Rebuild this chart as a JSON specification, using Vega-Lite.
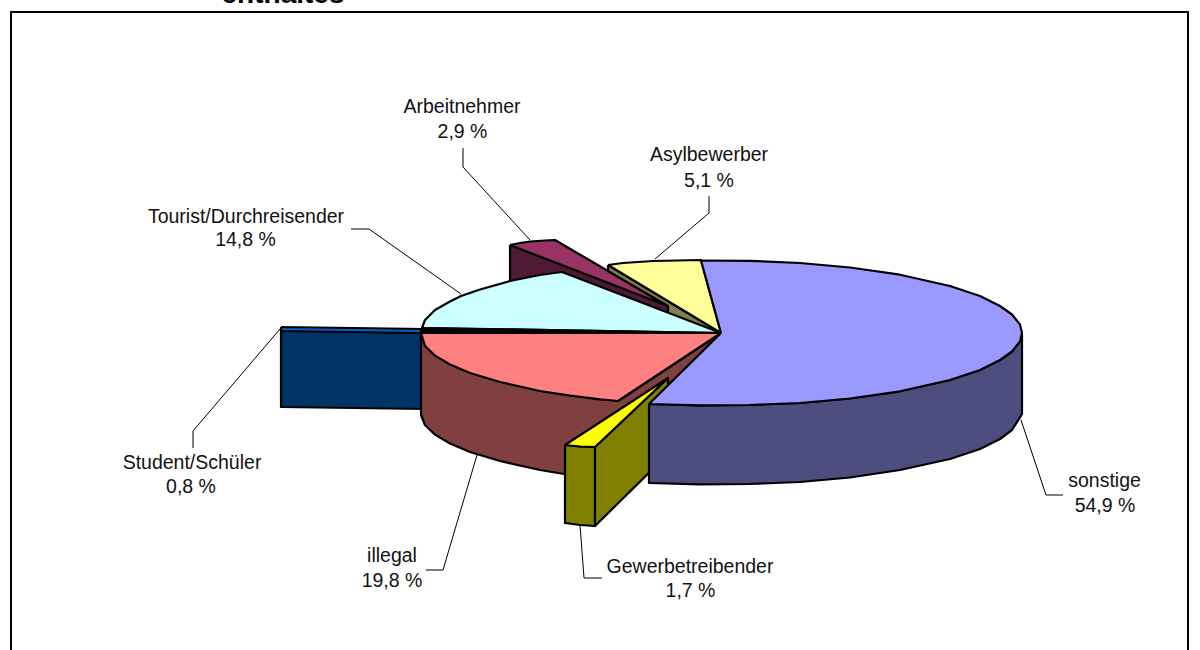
{"$schema":"https://vega.github.io/schema/vega-lite/v6.json","width":1200,"height":650,"autosize":{"type":"none"},"padding":0,"background":"white","view":{"stroke":null},
"datasets":{
"faces":[
{"p":"Arbeitnehmer Seite","x":510,"y":245},{"p":"Arbeitnehmer Seite","x":510,"y":285},{"p":"Arbeitnehmer Seite","x":668,"y":314},{"p":"Arbeitnehmer Seite","x":668,"y":305},{"p":"Arbeitnehmer Seite","x":510,"y":245},
{"p":"Arbeitnehmer","x":510,"y":245},{"p":"Arbeitnehmer","x":520,"y":243},{"p":"Arbeitnehmer","x":530,"y":241.5},{"p":"Arbeitnehmer","x":545,"y":240.5},{"p":"Arbeitnehmer","x":555,"y":240},{"p":"Arbeitnehmer","x":668,"y":306},{"p":"Arbeitnehmer","x":510,"y":245},
{"p":"Asylbewerber Seite","x":608,"y":265},{"p":"Asylbewerber Seite","x":608,"y":271},{"p":"Asylbewerber Seite","x":668,"y":306},{"p":"Asylbewerber Seite","x":668,"y":314},{"p":"Asylbewerber Seite","x":721,"y":333},{"p":"Asylbewerber Seite","x":608,"y":265},
{"p":"Asylbewerber","x":608,"y":265},{"p":"Asylbewerber","x":623,"y":263},{"p":"Asylbewerber","x":653,"y":261},{"p":"Asylbewerber","x":701,"y":260},{"p":"Asylbewerber","x":721,"y":333},{"p":"Asylbewerber","x":608,"y":265},
{"p":"Tourist","x":721,"y":333},{"p":"Tourist","x":562,"y":272},{"p":"Tourist","x":540,"y":275},{"p":"Tourist","x":510,"y":281},{"p":"Tourist","x":480,"y":289.5},{"p":"Tourist","x":461,"y":296},{"p":"Tourist","x":450,"y":301.5},{"p":"Tourist","x":435,"y":310},{"p":"Tourist","x":425,"y":320},{"p":"Tourist","x":422,"y":328},{"p":"Tourist","x":721,"y":333},
{"p":"Student Seite","x":281,"y":331},{"p":"Student Seite","x":425,"y":333},{"p":"Student Seite","x":425,"y":409},{"p":"Student Seite","x":281,"y":407},{"p":"Student Seite","x":281,"y":331},
{"p":"Student","x":281,"y":327},{"p":"Student","x":425,"y":329},{"p":"Student","x":425,"y":333},{"p":"Student","x":281,"y":331},{"p":"Student","x":281,"y":327},
{"p":"Keil","x":421,"y":328},{"p":"Keil","x":721,"y":333},{"p":"Keil","x":421,"y":334},{"p":"Keil","x":421,"y":328},
{"p":"illegal Seite","x":421,"y":335},{"p":"illegal Seite","x":421,"y":415},{"p":"illegal Seite","x":425,"y":425},{"p":"illegal Seite","x":435,"y":434.6},{"p":"illegal Seite","x":450,"y":443.5},{"p":"illegal Seite","x":470,"y":452},{"p":"illegal Seite","x":500,"y":461},{"p":"illegal Seite","x":540,"y":470},{"p":"illegal Seite","x":570,"y":475},{"p":"illegal Seite","x":618,"y":480},{"p":"illegal Seite","x":650,"y":440},{"p":"illegal Seite","x":650,"y":404},{"p":"illegal Seite","x":721,"y":333},{"p":"illegal Seite","x":618,"y":401},{"p":"illegal Seite","x":421,"y":335},
{"p":"illegal","x":721,"y":333},{"p":"illegal","x":421,"y":333},{"p":"illegal","x":425,"y":346},{"p":"illegal","x":435,"y":355.6},{"p":"illegal","x":450,"y":364.5},{"p":"illegal","x":470,"y":373},{"p":"illegal","x":500,"y":382},{"p":"illegal","x":540,"y":391},{"p":"illegal","x":570,"y":395.7},{"p":"illegal","x":600,"y":399.4},{"p":"illegal","x":618,"y":401},{"p":"illegal","x":721,"y":333},
{"p":"Gewerbe Front","x":565,"y":445},{"p":"Gewerbe Front","x":580,"y":446.5},{"p":"Gewerbe Front","x":595,"y":447},{"p":"Gewerbe Front","x":595,"y":526},{"p":"Gewerbe Front","x":580,"y":525},{"p":"Gewerbe Front","x":565,"y":523},{"p":"Gewerbe Front","x":565,"y":445},
{"p":"Gewerbe Seite","x":595,"y":447},{"p":"Gewerbe Seite","x":668,"y":378},{"p":"Gewerbe Seite","x":668,"y":454},{"p":"Gewerbe Seite","x":595,"y":526},{"p":"Gewerbe Seite","x":595,"y":447},
{"p":"Gewerbe","x":565,"y":445},{"p":"Gewerbe","x":668,"y":378},{"p":"Gewerbe","x":595,"y":447},{"p":"Gewerbe","x":580,"y":446.5},{"p":"Gewerbe","x":565,"y":445},
{"p":"sonstige Seite","x":650,"y":404},{"p":"sonstige Seite","x":700,"y":405.4},{"p":"sonstige Seite","x":750,"y":405},{"p":"sonstige Seite","x":800,"y":403},{"p":"sonstige Seite","x":850,"y":398.5},{"p":"sonstige Seite","x":900,"y":391.3},{"p":"sonstige Seite","x":950,"y":380},{"p":"sonstige Seite","x":980,"y":370},{"p":"sonstige Seite","x":1000,"y":360},{"p":"sonstige Seite","x":1012,"y":351.5},{"p":"sonstige Seite","x":1022,"y":335},{"p":"sonstige Seite","x":1022,"y":414},{"p":"sonstige Seite","x":1012,"y":430},{"p":"sonstige Seite","x":1000,"y":439},{"p":"sonstige Seite","x":980,"y":449},{"p":"sonstige Seite","x":950,"y":459},{"p":"sonstige Seite","x":900,"y":470},{"p":"sonstige Seite","x":850,"y":477.5},{"p":"sonstige Seite","x":800,"y":482},{"p":"sonstige Seite","x":750,"y":484},{"p":"sonstige Seite","x":700,"y":484.4},{"p":"sonstige Seite","x":649,"y":483},{"p":"sonstige Seite","x":649,"y":404},
{"p":"sonstige","x":721,"y":333},{"p":"sonstige","x":701,"y":260.5},{"p":"sonstige","x":750,"y":260.8},{"p":"sonstige","x":800,"y":263},{"p":"sonstige","x":850,"y":267.5},{"p":"sonstige","x":900,"y":274.7},{"p":"sonstige","x":950,"y":286},{"p":"sonstige","x":980,"y":296},{"p":"sonstige","x":1000,"y":306},{"p":"sonstige","x":1012,"y":314.5},{"p":"sonstige","x":1020,"y":324.5},{"p":"sonstige","x":1022,"y":333},{"p":"sonstige","x":1020,"y":341.5},{"p":"sonstige","x":1012,"y":351.5},{"p":"sonstige","x":1000,"y":360},{"p":"sonstige","x":980,"y":370},{"p":"sonstige","x":950,"y":380},{"p":"sonstige","x":900,"y":391.3},{"p":"sonstige","x":850,"y":398.5},{"p":"sonstige","x":800,"y":403},{"p":"sonstige","x":750,"y":405},{"p":"sonstige","x":700,"y":405.4},{"p":"sonstige","x":649,"y":404},{"p":"sonstige","x":721,"y":333}
],
"leaders":[
{"n":"Arbeitnehmer","x":463,"y":148},{"n":"Arbeitnehmer","x":463,"y":167},{"n":"Arbeitnehmer","x":530,"y":240},
{"n":"Tourist","x":351,"y":229},{"n":"Tourist","x":369,"y":229},{"n":"Tourist","x":461,"y":294},
{"n":"Asylbewerber","x":709,"y":196},{"n":"Asylbewerber","x":709,"y":213},{"n":"Asylbewerber","x":655,"y":259},
{"n":"Student","x":193,"y":448},{"n":"Student","x":193,"y":431},{"n":"Student","x":280,"y":329},
{"n":"illegal","x":426,"y":570},{"n":"illegal","x":443,"y":570},{"n":"illegal","x":477,"y":455},
{"n":"Gewerbe","x":580,"y":525},{"n":"Gewerbe","x":584,"y":578},{"n":"Gewerbe","x":602,"y":578},
{"n":"sonstige","x":1021,"y":420},{"n":"sonstige","x":1046,"y":495},{"n":"sonstige","x":1063,"y":495}
],
"frame":[{"x":11,"y":650},{"x":11,"y":12},{"x":1188,"y":12},{"x":1188,"y":650}],
"labels":[
{"t":"Arbeitnehmer","x":462,"y":107},{"t":"2,9 %","x":462.5,"y":132},
{"t":"Tourist/Durchreisender","x":246,"y":217},{"t":"14,8 %","x":245.5,"y":240},
{"t":"Asylbewerber","x":709,"y":155},{"t":"5,1 %","x":709,"y":181},
{"t":"Student/Schüler","x":192,"y":463},{"t":"0,8 %","x":191,"y":487},
{"t":"illegal","x":392,"y":556},{"t":"19,8 %","x":392,"y":581},
{"t":"Gewerbetreibender","x":690,"y":567},{"t":"1,7 %","x":690.5,"y":591},
{"t":"sonstige","x":1104.5,"y":481},{"t":"54,9 %","x":1105,"y":506}
],
"title":[{"t":"enthaltes","x":283,"y":3}]
},
"encoding":{
"x":{"field":"x","type":"quantitative","axis":null,"scale":{"domain":[0,1200]}},
"y":{"field":"y","type":"quantitative","axis":null,"scale":{"domain":[650,0]}}
},
"layer":[
{"data":{"name":"leaders"},"mark":{"type":"line","stroke":"black","strokeWidth":1,"clip":false},"encoding":{"detail":{"field":"n"},"order":{"value":null}}},
{"data":{"name":"faces"},"mark":{"type":"line","stroke":"black","strokeWidth":2.2,"strokeJoin":"round"},"encoding":{"order":{"value":null},"fill":{"field":"p","type":"nominal","legend":null,"scale":{"domain":["Arbeitnehmer Seite","Arbeitnehmer","Asylbewerber Seite","Asylbewerber","Tourist","Student Seite","Student","Keil","illegal Seite","illegal","Gewerbe Front","Gewerbe Seite","Gewerbe","sonstige Seite","sonstige"],"range":["#4d1933","#993366","#80804d","#ffff99","#ccffff","#003366","#0066cc","#000000","#804040","#ff8080","#808000","#808000","#ffff00","#4d4d80","#9999ff"]}},"detail":{"field":"p"}}},
{"data":{"name":"frame"},"mark":{"type":"line","stroke":"black","strokeWidth":2},"encoding":{"order":{"value":null}}},
{"data":{"name":"labels"},"mark":{"type":"text","font":"Liberation Sans","fontSize":19.5,"align":"center","baseline":"middle","fill":"#111111"},"encoding":{"text":{"field":"t"}}},
{"data":{"name":"title"},"mark":{"type":"text","font":"Liberation Sans","fontWeight":"bold","fontSize":28,"align":"center","baseline":"alphabetic","fill":"black"},"encoding":{"text":{"field":"t"}}}
]}
